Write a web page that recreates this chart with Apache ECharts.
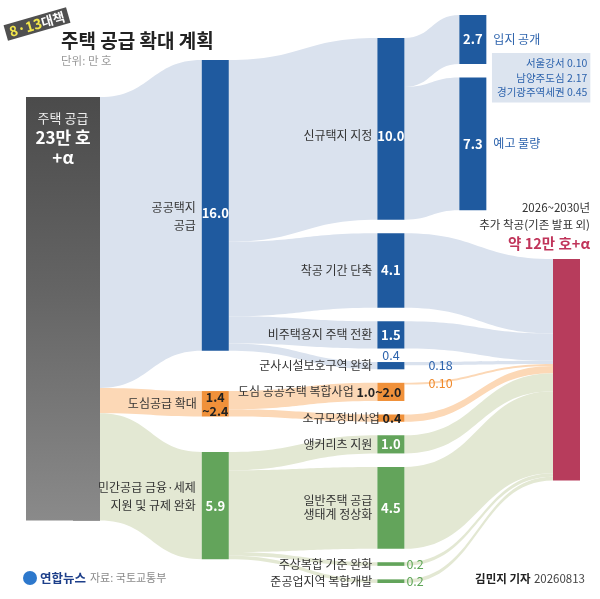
<!DOCTYPE html>
<html>
<head>
<meta charset="utf-8">
<script src="https://cdn.jsdelivr.net/npm/echarts@6/dist/echarts.min.js"></script>
<style>
  html, body { margin: 0; padding: 0; background: #fff; }
  #chart { width: 600px; height: 599px; }
</style>
</head>
<body>
<div id="chart"></div>
<script>
// nodes, column by column (line breaks are how the names are set in the graphic)
const nodeNames = ['주택 공급', '공공택지\n공급', '도심공급 확대', '민간공급 금융·세제\n지원 및 규제 완화',
  '신규택지 지정', '착공 기간 단축', '비주택용지 주택 전환', '군사시설보호구역 완화', '도심 공공주택 복합사업',
  '소규모정비사업', '앵커리츠 지원', '일반주택 공급\n생태계 정상화', '주상복합 기준 완화', '준공업지역 복합개발',
  '입지 공개', '예고 물량', '2026~2030년\n추가 착공(기존 발표 외)'];
const nodeColumn = [0, 1, 1, 1, 2, 2, 2, 2, 2, 2, 2, 2, 2, 2, 3, 3, 4];
const nodeGroup = ['base', 'blue', 'orange', 'green', 'blue', 'blue', 'blue', 'blue', 'orange', 'orange',
  'green', 'green', 'green', 'green', 'blue', 'blue', 'red'];
const valueText = ['23만 호\n+α', '16.0', '1.4\n~2.4', '5.9', '10.0', '4.1', '1.5', '0.4', '1.0~2.0', '0.4',
  '1.0', '4.5', '0.2', '0.2', '2.7', '7.3', '약 12만 호+α'];

// flows (단위: 만 호)
const linkSource = [0, 0, 0, 1, 1, 1, 1, 2, 2, 3, 3, 3, 3, 4, 4, 5, 6, 7, 8, 9, 10, 11, 12, 13];
const linkTarget = [1, 2, 3, 4, 5, 6, 7, 8, 9, 10, 11, 12, 13, 14, 15, 16, 16, 16, 16, 16, 16, 16, 16, 16];
const linkValue = [16.0, 1.4, 5.9, 10.0, 4.1, 1.5, 0.4, 1.0, 0.4, 1.0, 4.5, 0.2, 0.2, 2.7, 7.3,
  4.1, 1.5, 0.18, 0.10, 0.4, 1.0, 4.5, 0.2, 0.2];

// 입지 공개 내역
const siteNames = ['서울강서', '남양주도심', '경기광주역세권'];
const siteValues = ['0.10', '2.17', '0.45'];

// layout: column depths and invisible filler nodes that hold columns down
const columnDepth = [0, 11, 26, 33, 41];
const fillers = [
  { before: 0, value: 3.77 },
  { before: 1, value: 1.73 },
  { before: 2, value: 0.73 },
  { before: 3, value: 0.47 },
  { before: 4, value: 0.52 },
  { before: 16, value: 12.68 }
];
const box = { left: 73, top: 15, width: 507, height: 568 };
const nodeWidth = 27;
const nodeGap = 13.5;

const font = 'Noto Sans CJK KR';
const colors = { base: '#4a4a4a', blue: '#1f5a9f', orange: '#f0913a', green: '#63a45b', red: '#b73c5c' };
const flowColors = { blue: '#dae2ee', orange: '#fcd8b6', green: '#e3e8d3' };
const ink = '#333';
const blueText = '#2e64ad';
const orangeText = '#f08a2c';
const greenText = '#5ea657';

function nodeValue(i) {
  let out = 0, inn = 0;
  linkValue.forEach((v, k) => {
    if (linkSource[k] === i) out += v;
    if (linkTarget[k] === i) inn += v;
  });
  return Math.max(out, inn);
}

const ordered = [];
for (let c = 0; c < columnDepth.length; c++) {
  nodeNames.forEach((name, i) => {
    if (nodeColumn[i] !== c) return;
    fillers.filter((f) => f.before === i).forEach((f) => {
      ordered.push({ name: '_fill' + i, filler: true, value: f.value, column: c });
    });
    ordered.push({ name: name, filler: false, value: nodeValue(i), column: c, index: i });
  });
}

let ky = Infinity;
columnDepth.forEach((d, c) => {
  const col = ordered.filter((n) => n.column === c);
  const sum = col.reduce((a, n) => a + n.value, 0);
  ky = Math.min(ky, (box.height - (col.length - 1) * nodeGap) / sum);
});

function outflow(i) {
  const k = linkSource.indexOf(i);
  return linkValue[k].toFixed(2);
}

const inWhite = { position: 'inside', color: '#fff', fontSize: 13, fontWeight: 'bold' };

function valueLabel(i) {
  const t = valueText[i];
  switch (i) {
    case 0:
      return {
        position: [-10, 0], align: 'center', verticalAlign: 'top',
        width: 74, height: nodeValue(0) * ky - 12, padding: [12, 0, 0, 0],
        backgroundColor: new echarts.graphic.LinearGradient(0, 0, 0, 1, [
          { offset: 0, color: '#4b4b4b' }, { offset: 0.45, color: '#646464' }, { offset: 1, color: '#8a8a8a' }
        ]),
        formatter: '{a|' + nodeNames[0] + '}\n' + t.split('\n').map((s) => '{b|' + s + '}').join('\n'),
        rich: {
          a: { color: '#eee', fontSize: 13, lineHeight: 19, align: 'center', fontFamily: font },
          b: { color: '#fff', fontSize: 17, fontWeight: 'bold', lineHeight: 20, align: 'center', fontFamily: font }
        }
      };
    case 1:
      return Object.assign({}, inWhite, { formatter: t, offset: [0, 8] });
    case 4:
      return Object.assign({}, inWhite, { formatter: t, offset: [0, 7] });
    case 2:
      return { position: 'inside', color: '#222', fontSize: 12.5, fontWeight: 'bold', lineHeight: 14, formatter: t };
    case 7:
      return { position: 'top', distance: 1, color: blueText, fontSize: 12.5, formatter: t };
    case 8: case 9: case 16:
      return { show: false };
    case 12: case 13:
      return { position: 'right', distance: 2, color: greenText, fontSize: 12.5, formatter: t };
    default:
      return Object.assign({}, inWhite, { formatter: t });
  }
}

function nameLabel(i) {
  const n = nodeNames[i];
  const base = { position: 'left', distance: 5, color: ink, fontSize: 12, lineHeight: 14, formatter: n };
  switch (i) {
    case 0:
      return { show: false };
    case 1:
      return Object.assign(base, { distance: 6, lineHeight: 18, offset: [0, 11] });
    case 3:
      return Object.assign(base, { distance: 6, lineHeight: 18, offset: [0, -9] });
    case 4:
      return Object.assign(base, { offset: [0, 7] });
    case 8: case 9:
      return {
        position: 'insideRight', distance: 3, formatter: '{n|' + n + '} {v|' + valueText[i] + '}',
        rich: {
          n: { color: ink, fontSize: 12, fontFamily: font },
          v: { color: '#222', fontSize: 12.5, fontWeight: 'bold', fontFamily: font }
        }
      };
    case 14: case 15:
      return Object.assign(base, { position: 'right', distance: 7, color: blueText });
    case 16:
      return {
        position: [37, -6], align: 'right', verticalAlign: 'bottom',
        formatter: n.split('\n').map((s) => '{t|' + s + '}').join('\n') + '\n{r|' + valueText[16] + '}',
        rich: {
          t: { color: ink, fontSize: 11.5, lineHeight: 17, align: 'right', fontFamily: font },
          r: { color: '#c0345a', fontSize: 14.5, fontWeight: 'bold', lineHeight: 20, align: 'right', fontFamily: font }
        }
      };
    default:
      return base;
  }
}

function extraLabel(i) {
  switch (i) {
    case 7:
      return { position: 'right', distance: 24, color: blueText, fontSize: 12.5, formatter: outflow(7) };
    case 8:
      return { position: [nodeWidth + 24, 0], align: 'left', verticalAlign: 'middle', color: orangeText, fontSize: 12.5, formatter: outflow(8) };
    case 14:
      return {
        position: [131, 38], align: 'right', verticalAlign: 'top',
        padding: [3, 3, 3, 5], backgroundColor: '#dce4ef',
        formatter: siteNames.map((s, k) => '{s|' + s + ' ' + siteValues[k] + '}').join('\n'),
        rich: { s: { color: blueText, fontSize: 10.5, lineHeight: 14.5, align: 'right', fontFamily: font } }
      };
    default:
      return { show: false };
  }
}

function flowColor(k) {
  const s = linkSource[k];
  const g = nodeGroup[s] === 'base' ? nodeGroup[linkTarget[k]] : nodeGroup[s];
  return flowColors[g];
}

function makeSeries(layer) {
  const visible = layer === 'value';
  const labelOf = layer === 'value' ? valueLabel : layer === 'name' ? nameLabel : extraLabel;
  return {
    type: 'sankey',
    left: box.left, top: box.top, width: box.width, height: box.height,
    nodeWidth: nodeWidth, nodeGap: nodeGap, nodeAlign: 'left', layoutIterations: 0,
    draggable: false, silent: true,
    emphasis: { disabled: true },
    label: { show: true, fontFamily: font },
    lineStyle: { curveness: 0.5, opacity: visible ? 1 : 0 },
    data: ordered.map((n) => {
      const item = {
        name: n.name,
        depth: columnDepth[n.column],
        itemStyle: { color: visible && !n.filler ? colors[nodeGroup[n.index]] : 'rgba(0,0,0,0)', borderWidth: 0 },
        label: n.filler ? { show: false } : Object.assign({ show: true, fontFamily: font }, labelOf(n.index))
      };
      if (n.filler) item.value = n.value;
      return item;
    }),
    links: linkValue.map((v, k) => ({
      source: nodeNames[linkSource[k]],
      target: nodeNames[linkTarget[k]],
      value: v,
      lineStyle: { color: visible ? flowColor(k) : 'rgba(0,0,0,0)' }
    }))
  };
}

const chart = echarts.init(document.getElementById('chart'));
chart.setOption({
  backgroundColor: '#fff',
  animation: false,
  title: {
    text: '주택 공급 확대 계획',
    subtext: '단위: 만 호',
    left: 56, top: 26, itemGap: 5,
    textStyle: { fontFamily: font, fontSize: 19, fontWeight: 'bold', color: '#222' },
    subtextStyle: { fontFamily: font, fontSize: 11.5, color: '#9a9a9a' }
  },
  graphic: [
    {
      type: 'text', x: 37, y: 24, rotation: 0.28,
      style: {
        text: '{y|8·13}{w|대책}', align: 'center', verticalAlign: 'middle',
        backgroundColor: '#505050', padding: [1, 4, 1, 4],
        rich: {
          y: { fill: '#f2e64a', fontSize: 14, fontWeight: 'bold', fontFamily: font },
          w: { fill: '#fff', fontSize: 13, fontWeight: 'bold', fontFamily: font }
        }
      }
    },
    { type: 'circle', shape: { cx: 30, cy: 578, r: 7 }, style: { fill: '#2d78cc' } },
    {
      type: 'text', x: 40, y: 578,
      style: { text: '연합뉴스', fill: '#1d3f8a', fontSize: 12.5, fontWeight: 'bold', fontFamily: font, verticalAlign: 'middle' }
    },
    {
      type: 'text', x: 90, y: 578,
      style: { text: '자료: 국토교통부', fill: '#8a8a8a', fontSize: 11, fontFamily: font, verticalAlign: 'middle' }
    },
    {
      type: 'text', x: 585, y: 579,
      style: {
        text: '{b|김민지 기자} {n|20260813}', align: 'right', verticalAlign: 'middle',
        rich: {
          b: { fill: '#222', fontSize: 11.5, fontWeight: 'bold', fontFamily: font },
          n: { fill: '#444', fontSize: 11.5, fontFamily: font }
        }
      }
    }
  ],
  series: [makeSeries('value'), makeSeries('name'), makeSeries('extra')]
});
</script>
</body>
</html>
